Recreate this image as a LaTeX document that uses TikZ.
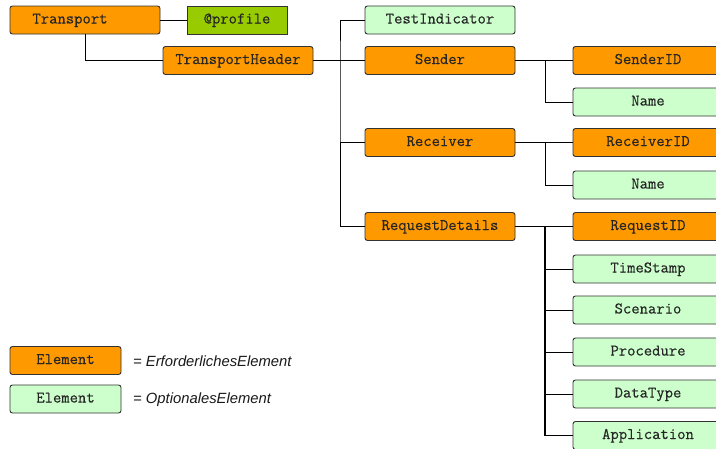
\documentclass[tikz,border=0pt]{standalone}
\usepackage{fontspec}
\setmainfont{Liberation Sans}
\newfontfamily\boxfont[FakeBold=0.4]{Latin Modern Mono}
\definecolor{reqfill}{HTML}{FF9900}
\definecolor{optfill}{HTML}{CCFFCC}
\definecolor{attfill}{HTML}{99CC00}
\definecolor{edge}{HTML}{333333}
\tikzset{
  elem/.style={draw=edge, line width=0.9pt, rounded corners=2.5pt, minimum width=150pt, minimum height=28pt, inner sep=0pt, text height=10pt, text depth=3pt, font=\boxfont\fontsize{16.2}{16.2}\selectfont, text=black!85},
  req/.style={elem, fill=reqfill},
  opt/.style={elem, fill=optfill},
  att/.style={elem, fill=attfill, rounded corners=0pt, minimum width=100pt},
  conn/.style={draw=black, line width=1pt},
  legtext/.style={font=\itshape\fontsize{14.8}{14.8}\selectfont, anchor=west, inner sep=0pt, text=black!90}
}
\begin{document}
\begin{tikzpicture}[x=1pt, y=-1pt]
\clip (0,0) rectangle (716,448);
\fill[white] (0,0) rectangle (716,448);
% level 0/1
\node[req] (T) at (85,20) {\hspace*{-30pt}Transport};
\node[att] (P) at (237,20) {@profile};
\node[req] (TH) at (238,60.5) {TransportHeader};
% level 2
\node[opt] (TI) at (440,20) {TestIndicator};
\node[req] (S) at (440,60.5) {Sender};
\node[req] (R) at (440,142.5) {Receiver};
\node[req] (RD) at (440,226.5) {RequestDetails};
% level 3
\node[req] (SID) at (648,60.5) {SenderID};
\node[opt] (SN) at (648,102) {Name};
\node[req] (RID) at (648,142.5) {ReceiverID};
\node[opt] (RN) at (648,185) {Name};
\node[req] (QID) at (648,226.5) {RequestID};
\node[opt] (TS) at (648,269) {TimeStamp};
\node[opt] (SC) at (648,310) {Scenario};
\node[opt] (PR) at (648,352) {Procedure};
\node[opt] (DT) at (648,394) {DataType};
\node[opt] (AP) at (648,435.5) {Application};
% legend
\node[req, minimum width=111pt] (L1) at (65.5,360.5) {Element};
\node[opt, minimum width=111pt] (L2) at (65.5,399) {Element};
\node[legtext] (L1t) at (133,361) {= ErforderlichesElement};
\node[legtext] (L2t) at (133,400) {= OptionalesElement};
% connectors
\coordinate (j1) at (340,60.5);
\coordinate (j2) at (545,60.5);
\coordinate (j3) at (545,142.5);
\coordinate (j4) at (545,226.5);
\draw[conn] (T.east) -- (P.west);
\draw[conn] (T.south) |- (TH.west);
\draw[conn] (TH.east) -- (S.west);
\draw[conn] (TI.west) -| (j1) |- (RD.west);
\draw[conn] (j1 |- R.west) -- (R.west);
\draw[conn] (S.east) -- (SID.west);
\draw[conn] (j2) |- (SN.west);
\draw[conn] (R.east) -- (RID.west);
\draw[conn] (j3) |- (RN.west);
\draw[conn] (RD.east) -- (QID.west);
\draw[conn, line width=1.6pt] (j4) -- (j4 |- AP.west);
\draw[conn] (j4 |- AP.west) -- (AP.west);
\draw[conn] (j4 |- TS.west) -- (TS.west);
\draw[conn] (j4 |- SC.west) -- (SC.west);
\draw[conn] (j4 |- PR.west) -- (PR.west);
\draw[conn] (j4 |- DT.west) -- (DT.west);
\end{tikzpicture}
\end{document}
